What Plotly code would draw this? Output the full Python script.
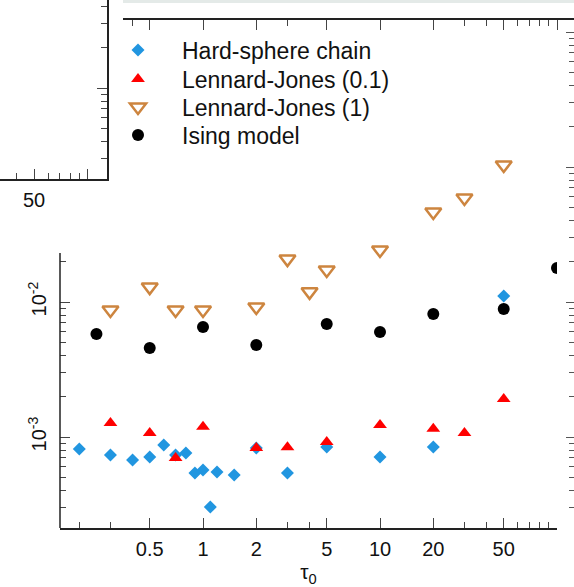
import plotly.graph_objects as go

W, H = 574, 587

# ---------------- data ----------------
hs_tau = [0.2, 0.3, 0.4, 0.5, 0.6, 0.7, 0.8, 0.9, 1.0, 1.1, 1.2, 1.5, 2, 3, 5, 10, 20, 50]
hs_val = [8.15e-4, 7.36e-4, 6.76e-4, 7.11e-4, 8.73e-4, 7.36e-4, 7.6e-4, 5.41e-4, 5.7e-4,
          3.03e-4, 5.5e-4, 5.23e-4, 8.3e-4, 5.41e-4, 8.44e-4, 7.11e-4, 8.44e-4, 1.107e-2]

lj01_tau = [0.3, 0.5, 0.7, 1, 2, 3, 5, 10, 20, 30, 50]
lj01_val = [1.27e-3, 1.07e-3, 6.99e-4, 1.19e-3, 8.3e-4, 8.4e-4, 9.18e-4, 1.23e-3, 1.15e-3, 1.07e-3, 1.91e-3]

lj1_tau = [0.3, 0.5, 0.7, 1, 2, 3, 4, 5, 10, 20, 30, 50]
lj1_val = [8.72e-3, 1.29e-2, 8.72e-3, 8.72e-3, 9.18e-3, 2.08e-2, 1.19e-2, 1.73e-2, 2.43e-2,
           4.64e-2, 5.89e-2, 1.035e-1]

ising_tau = [0.25, 0.5, 1, 2, 5, 10, 20, 50, 100]
ising_val = [5.8e-3, 4.56e-3, 6.53e-3, 4.8e-3, 6.87e-3, 6.0e-3, 8.15e-3, 8.87e-3, 1.79e-2]

series_names = ["Hard-sphere chain", "Lennard-Jones (0.1)", "Lennard-Jones (1)", "Ising model"]

x_major = [0.5, 1, 2, 5, 10, 20, 50, 100]
x_major_text = ["0.5", "1", "2", "5", "10", "20", "50", ""]
x_minor = [0.2, 0.3, 3, 4, 30, 40, 60, 70, 80, 90]
top_minor = [0.4, 3, 30, 40, 60, 70, 80, 90]

y_major = [1e-3, 1e-2]
y_major_text = ["10<sup>-3</sup>", "10<sup>-2</sup>"]
y_minor = [3e-4, 4e-4, 5e-4, 6e-4, 7e-4, 8e-4, 9e-4,
           2e-3, 3e-3, 4e-3, 5e-3, 6e-3, 7e-3, 8e-3, 9e-3, 2e-2]
r_major = [1e-3, 1e-2, 1e-1, 1]
r_minor = [m * d for d in (1e-4, 1e-3, 1e-2, 1e-1) for m in range(2, 10) if m * d >= 3e-4]

inset_x_major = [50, 100]
inset_x_text = ["50", ""]
inset_x_minor = [40, 60, 70, 80, 90]
inset_y_major = [1]
inset_y_minor = [0.3, 0.4, 0.5, 0.6, 0.7, 0.8, 0.9, 2, 3, 4]

FONT = "Liberation Sans, Arial, Helvetica, sans-serif"
AX = "#222222"

def px_x(p):
    return p / W

def px_y(p):
    return (H - p) / H

fig = go.Figure()

fig.add_trace(go.Scatter(x=hs_tau, y=hs_val, mode="markers", name=series_names[0], legend="legend",
                         marker=dict(symbol="diamond", size=10, color="#2196e0")))
fig.add_trace(go.Scatter(x=lj01_tau, y=lj01_val, mode="markers", name=series_names[1], legend="legend2",
                         marker=dict(symbol="triangle-up", size=12, color="#ff0000")))
fig.add_trace(go.Scatter(x=lj1_tau, y=lj1_val, mode="markers", name=series_names[2], legend="legend3",
                         marker=dict(symbol="triangle-down-open", size=14, color="#cd853f",
                                     line=dict(width=2.5, color="#cd853f"))))
fig.add_trace(go.Scatter(x=ising_tau, y=ising_val, mode="markers", name=series_names[3], legend="legend4",
                         marker=dict(symbol="circle", size=12, color="#000000")))

# empty traces for auxiliary panels
fig.add_trace(go.Scatter(x=[], y=[], xaxis="x2", yaxis="y2", showlegend=False))
fig.add_trace(go.Scatter(x=[], y=[], xaxis="x3", yaxis="y3", showlegend=False))
fig.add_trace(go.Scatter(x=[], y=[], xaxis="x", yaxis="y4", showlegend=False))

tickfont = dict(family=FONT, size=20, color="#111")

def leg(row_y):
    return dict(x=px_x(94), y=px_y(row_y), xanchor="left", yanchor="middle",
                font=dict(family=FONT, size=23, color="#111"),
                itemwidth=78, bgcolor="rgba(0,0,0,0)")

fig.update_layout(
    width=W, height=H,
    margin=dict(l=0, r=0, t=0, b=0),
    paper_bgcolor="white", plot_bgcolor="rgba(0,0,0,0)",
    font=dict(family=FONT, color="#111"),
    showlegend=True,
    legend=leg(50), legend2=leg(79), legend3=leg(107), legend4=leg(135),
    xaxis=dict(type="log", domain=[px_x(60), px_x(557)], range=[-0.808, 2.0],
               showline=True, linecolor=AX, linewidth=1.5, ticks="inside",
               ticklen=10, tickwidth=1.2, tickcolor="#444",
               tickvals=x_major, ticktext=x_major_text, tickfont=tickfont,
               ticklabelstandoff=2,
               minor=dict(tickvals=x_minor, ticklen=6, tickwidth=1.2, tickcolor="#444", ticks="inside"),
               showgrid=False, zeroline=False, anchor="y",
               title=dict(text="τ<sub>0</sub>", font=dict(family=FONT, size=21, color="#111"), standoff=6)),
    yaxis=dict(type="log", domain=[px_y(528), px_y(18)], range=[-3.674, 0.104],
               showline=False, ticks="inside", ticklen=10, tickwidth=1.2, tickcolor="#444",
               tickvals=y_major, ticktext=y_major_text, tickangle=-90, tickfont=tickfont,
               ticklabelstandoff=9,
               minor=dict(tickvals=y_minor, ticklen=6, tickwidth=1.2, tickcolor="#444", ticks="inside"),
               showgrid=False, zeroline=False, anchor="x"),
    yaxis4=dict(type="log", overlaying="y", anchor="free", position=1.0, side="left",
                range=[-3.674, 0.104], showline=False, ticks="outside", ticklen=8, tickwidth=1.2,
                tickcolor="#555", tickvals=r_major, showticklabels=False,
                minor=dict(tickvals=r_minor, ticklen=5, tickwidth=1.2, tickcolor="#555", ticks="outside"),
                showgrid=False, zeroline=False),
    # inset panel (upper-left fragment)
    xaxis2=dict(type="log", domain=[0, px_x(107)], range=[1.507, 2.111], anchor="y2",
                showline=True, linecolor=AX, linewidth=1.5, ticks="inside", ticklen=10,
                tickwidth=1.2, tickcolor="#444", tickvals=inset_x_major, ticktext=inset_x_text,
                tickfont=tickfont, ticklabelstandoff=2,
                minor=dict(tickvals=inset_x_minor, ticklen=6, tickwidth=1.2, tickcolor="#444", ticks="inside"),
                showgrid=False, zeroline=False),
    yaxis2=dict(type="log", domain=[px_y(179), 1], range=[-0.674, 0.652], anchor="x2", side="right",
                showline=True, linecolor=AX, linewidth=1.5, ticks="inside", ticklen=10,
                tickwidth=1.2, tickcolor="#444", tickvals=inset_y_major, showticklabels=False,
                minor=dict(tickvals=inset_y_minor, ticklen=6, tickwidth=1.2, tickcolor="#444", ticks="inside"),
                showgrid=False, zeroline=False),
    # top panel fragment
    xaxis3=dict(type="log", domain=[px_x(123), 1], range=[-0.452, 2.096], anchor="y3",
                showline=True, linecolor=AX, linewidth=1.5, ticks="outside", ticklen=10,
                tickwidth=1.2, tickcolor="#444", tickvals=x_major, showticklabels=False,
                minor=dict(tickvals=top_minor, ticklen=6, tickwidth=1.2, tickcolor="#444", ticks="outside"),
                showgrid=False, zeroline=False),
    yaxis3=dict(domain=[px_y(18), 1], range=[0, 1], anchor="x3", visible=False),
    shapes=[
        dict(type="line", xref="x domain", yref="y domain", x0=0, x1=0, y0=0,
             y1=(528 - 253) / (528 - 18), line=dict(color=AX, width=1.5)),
        dict(type="rect", xref="paper", yref="paper", x0=px_x(123), x1=1, y0=px_y(3), y1=1,
             line=dict(width=0), fillcolor="#e4eae8", layer="below"),
    ],
)

fig.write_html("out.html")
